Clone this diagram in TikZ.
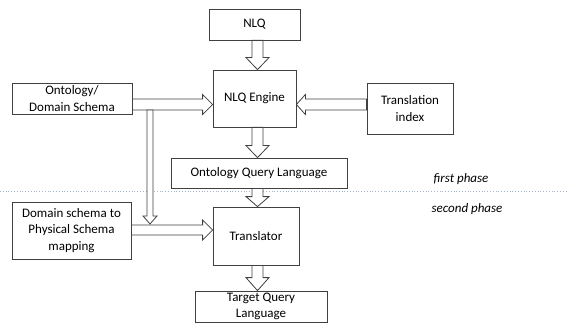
\documentclass[tikz,border=0pt]{standalone}
\usepackage{fontspec}
\setmainfont{Carlito}
\usetikzlibrary{calc}

\newcommand{\boxfont}{\fontsize{13}{16.5}\selectfont}
\definecolor{linegray}{RGB}{64,64,64}
\definecolor{phaseline}{RGB}{165,180,200}

\tikzset{
  box/.style={draw=linegray, line width=0.8pt, fill=white, align=center,
    inner sep=1pt, font=\boxfont},
  blockarrow/.style={draw=linegray, line width=0.8pt, fill=white, line join=miter},
  phase/.style={font=\boxfont\itshape, inner sep=0pt}
}

% hollow block arrow: half shaft, half head, head length, from, to
\newcommand{\blockarrow}[5]{%
  \coordinate (ba-h) at ($(#5)!#3!(#4)$);
  \draw[blockarrow] ($(#4)!#1!90:(#5)$) -- ($(ba-h)!#1!90:(#5)$)
    -- ($(ba-h)!#2!90:(#5)$) -- (#5) -- ($(ba-h)!#2!-90:(#5)$)
    -- ($(ba-h)!#1!-90:(#5)$) -- ($(#4)!#1!-90:(#5)$) -- cycle;}

\begin{document}
\begin{tikzpicture}[x=1pt, y=1pt]
  \useasboundingbox (0,0) rectangle (567,327);

  % phase separator
  \draw[phaseline, dotted, line width=0.8pt] (0,136) -- (567,136);
  \node (first) [phase] at (461,148) {first phase};
  \node (second) [phase] at (467,118) {second phase};

  % first phase
  \node (nlq) [box, minimum width=91pt, minimum height=31pt] at (254.5,302.5) {NLQ};
  \node (engine) [box, minimum width=83pt, minimum height=57pt] at (254.5,228.5) {NLQ Engine};
  \node (onto) [box, minimum width=120pt, minimum height=31pt] at (72,228.5) {Ontology/\\Domain Schema};
  \node (index) [box, minimum width=86pt, minimum height=51pt] at (410,218.5) {Translation\\index};
  \node (oql) [box, minimum width=176pt, minimum height=30pt] at (259,154) {Ontology Query Language};

  % second phase
  \node (transl) [box, minimum width=86pt, minimum height=58pt] at (256,91) {Translator};
  \node (mapping) [box, minimum width=119pt, minimum height=57pt] at (71.5,96.5) {Domain schema to\\Physical Schema\\mapping};
  \node (target) [box, minimum width=132pt, minimum height=31pt, inner sep=0pt] at (261,20.5) {Target Query\\Language};

  \blockarrow{5.5pt}{11.5pt}{12pt}{[xshift=3pt]nlq.south}{[xshift=3pt]engine.north}
  \blockarrow{5.5pt}{10pt}{10pt}{[yshift=-6pt]onto.east}{[yshift=-6pt]engine.west}
  \blockarrow{5.5pt}{10pt}{9pt}{[yshift=4pt]index.west}{[yshift=-6pt]engine.east}
  \blockarrow{5.5pt}{11.5pt}{12pt}{[xshift=3pt]engine.south}{[xshift=-1.5pt]oql.north}
  \blockarrow{5.5pt}{11.5pt}{10pt}{[xshift=-1.5pt]oql.south}{[xshift=1.5pt]transl.north}
  \blockarrow{5pt}{10pt}{10pt}{[yshift=0.5pt]mapping.east}{[yshift=6pt]transl.west}
  \blockarrow{5.5pt}{11.5pt}{13pt}{[xshift=1.5pt]transl.south}{[xshift=-3.5pt]target.north}

  % ontology also feeds the translator
  \coordinate (split) at (150,217);
  \coordinate (join) at (150,103);
  \blockarrow{3pt}{7pt}{8pt}{split}{join}
\end{tikzpicture}
\end{document}
